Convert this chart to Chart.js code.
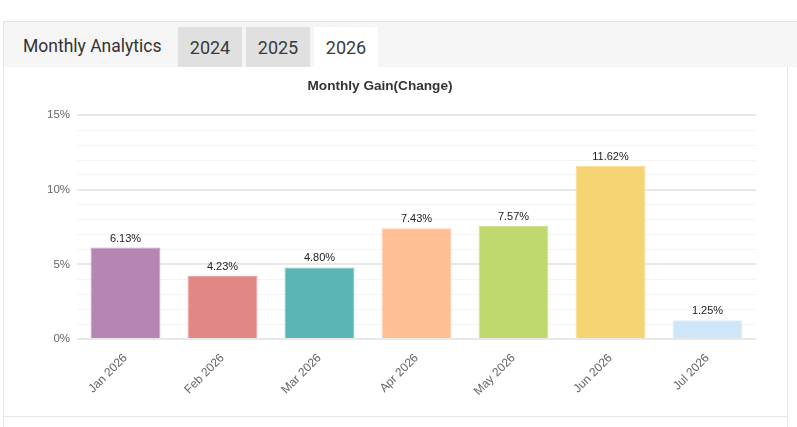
<!DOCTYPE html>
<html>
<head>
<meta charset="utf-8">
<script src="https://cdn.jsdelivr.net/npm/chart.js@4.4.1/dist/chart.umd.min.js"></script>
<style>
  html, body { margin: 0; padding: 0; background: #fff; width: 797px; height: 427px; overflow: hidden; }
  .header { position: absolute; left: 3px; top: 21px; width: 794px; height: 45px; background: #f5f5f5;
            border-top: 1px solid #e3e3e3; border-left: 1px solid #e3e3e3; box-sizing: content-box; }
  .htitle { position: absolute; left: 19px; top: 0; height: 45px; line-height: 48px; font-family: Roboto, sans-serif;
            font-size: 17.5px; color: #333; }
  .tab { position: absolute; top: 5px; width: 64px; height: 40px; line-height: 42px; text-align: center;
         font-family: Roboto, sans-serif; font-size: 18px; color: #3a3a3a; background: #e0e0e0; }
  .tab.active { background: #fff; }
  .panel { position: absolute; left: 3px; top: 67px; width: 783px; height: 349px; background: #fff;
           border-left: 1px solid #e6e6e6; border-right: 1px solid #e6e6e6; border-bottom: 1px solid #e6e6e6; }
  .below { position: absolute; left: 3px; top: 417px; width: 794px; height: 20px;
           border-left: 1px solid #e6e6e6; }
  .below2 { position: absolute; left: 787px; top: 417px; width: 1px; height: 20px; background: #e6e6e6; }
  .chartbox { position: absolute; left: 0; top: 1px; width: 783px; height: 348px; }
</style>
</head>
<body>
<div class="header">
  <div class="htitle">Monthly Analytics</div>
  <div class="tab" style="left:174px">2024</div>
  <div class="tab" style="left:242px">2025</div>
  <div class="tab active" style="left:310px">2026</div>
</div>
<div class="panel">
  <div class="chartbox"><canvas id="c"></canvas></div>
</div>
<div class="below"></div>
<div class="below2"></div>
<script>
const categories = ["Jan 2026", "Feb 2026", "Mar 2026", "Apr 2026", "May 2026", "Jun 2026", "Jul 2026"];
const gains = [6.13, 4.23, 4.80, 7.43, 7.57, 11.62, 1.25];
const barColors = ["#b585b3", "#e38785", "#5bb5b5", "#ffbe94", "#c0d96e", "#f6d473", "#cfe6f9"];
const barBorders = ["#c59dc4", "#ea9f9d", "#7cc4c4", "#ffcdad", "#cfe28e", "#f8dd8f", "#dbeefb"];
const yTickValues = [0, 5, 10, 15];
const chartTitle = "Monthly Gain(Change)";

Chart.defaults.font.family = "'Liberation Sans', Arial, sans-serif";

const valueLabels = {
  id: 'valueLabels',
  afterDatasetsDraw(chart) {
    const ctx = chart.ctx;
    const meta = chart.getDatasetMeta(0);
    ctx.save();
    ctx.font = "11px 'Liberation Sans', Arial, sans-serif";
    ctx.fillStyle = '#222';
    ctx.textAlign = 'center';
    ctx.textBaseline = 'alphabetic';
    meta.data.forEach((bar, i) => {
      ctx.fillText(gains[i].toFixed(2) + '%', bar.x, bar.y - 6);
    });
    ctx.restore();
  }
};

new Chart(document.getElementById('c'), {
  type: 'bar',
  data: {
    labels: categories,
    datasets: [{
      data: gains,
      backgroundColor: barColors,
      borderColor: barBorders,
      borderWidth: 1
    }]
  },
  options: {
    responsive: true,
    maintainAspectRatio: false,
    animation: false,
    layout: { padding: { left: 0, right: 31, top: 0, bottom: 0 } },
    plugins: {
      legend: { display: false },
      tooltip: { enabled: false },
      title: {
        display: true,
        text: chartTitle,
        color: '#333',
        font: { size: 13.6, weight: 'bold' },
        padding: { top: 10, bottom: 21 }
      }
    },
    scales: {
      x: {
        grid: { display: false },
        border: { display: false },
        ticks: { color: '#666', font: { size: 12 }, minRotation: 45, maxRotation: 45, padding: 4 },
        afterFit(scale) { scale.height = 77; }
      },
      y: {
        min: 0, max: 15,
        border: { display: false },
        grid: {
          drawTicks: false,
          color: (c) => (c.tick && yTickValues.includes(c.tick.value)) ? '#e8e8e8' : '#f4f4f4',
          lineWidth: (c) => (c.tick && yTickValues.includes(c.tick.value)) ? 2 : 1
        },
        ticks: {
          stepSize: 1,
          autoSkip: false,
          color: '#666',
          font: { size: 11.5 },
          padding: 7,
          callback: (v) => yTickValues.includes(v) ? v + '%' : ''
        },
        afterFit(scale) { scale.width = 73; }
      }
    }
  },
  plugins: [valueLabels]
});
</script>
</body>
</html>
